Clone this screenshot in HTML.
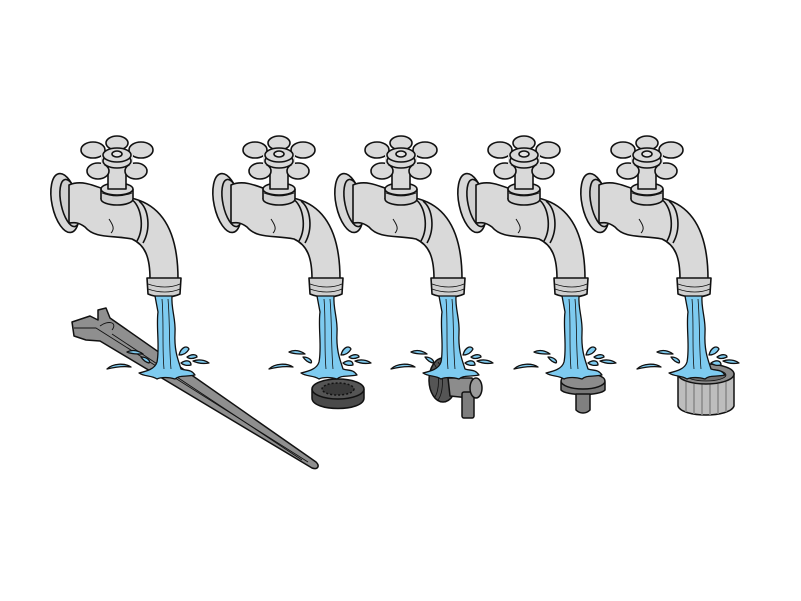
<!DOCTYPE html>
<html><head><style>html,body{margin:0;padding:0;background:#fff}svg{display:block}</style></head>
<body>
<svg width="801" height="601" viewBox="0 0 801 601" xmlns="http://www.w3.org/2000/svg">
<defs>
<g id="fau" stroke="#111" stroke-width="1.6" stroke-linejoin="round">
  <ellipse cx="-52" cy="46" rx="13" ry="30" transform="rotate(-12 -52 46)" fill="#d8d8d8"/>
  <ellipse cx="-47" cy="46" rx="9" ry="24" transform="rotate(-12 -47 46)" fill="#cfcfcf"/>
  <path d="M-48 28 C-30 20 -12 36 18 42 C46 50 61 76 61 122 L33 122 C33 100 28 88 15 82 C-5 78 -22 82 -32 70 C-40 64 -44 66 -48 66 Z" fill="#d9d9d9"/>
  <path d="M14 42 C24 48 28 70 20 84" fill="none"/>
  <path d="M22 44 C32 52 34 72 26 86" fill="none"/>
  <path d="M-8 62 C-4 68 -2 72 -6 76" fill="none" stroke-width="1"/>
  <path d="M30 121 L64 121 L63 137 C55 141 40 141 31 137 Z" fill="#cfcfcf"/>
  <path d="M31 127 C42 131 54 131 63 127 M31 132 C42 136 54 136 63 132" fill="none" stroke-width="0.8"/>
  <ellipse cx="0" cy="42" rx="16" ry="6" fill="#d0d0d0"/>
  <rect x="-16" y="32" width="32" height="10" fill="#d0d0d0" stroke="none"/>
  <path d="M-16 32 L-16 42 M16 32 L16 42" fill="none"/>
  <ellipse cx="0" cy="32" rx="16" ry="6" fill="#d8d8d8"/>
  <path d="M-15 36 C-5 40 5 40 15 36" fill="none" stroke-width="0.8"/>
  <rect x="-9" y="6" width="18" height="26" fill="#d9d9d9"/>
  <g fill="#d9d9d9">
    <ellipse cx="-24" cy="-7" rx="12" ry="8"/>
    <ellipse cx="24" cy="-7" rx="12" ry="8"/>
    <ellipse cx="0" cy="-14" rx="11" ry="7"/>
    <ellipse cx="-19" cy="14" rx="11" ry="8"/>
    <ellipse cx="19" cy="14" rx="11" ry="8"/>
    <path d="M-16 -4 L16 -4 L16 8 L-16 8 Z" stroke="none"/>
    <ellipse cx="0" cy="4" rx="14" ry="7"/>
    <ellipse cx="0" cy="-2" rx="14" ry="7"/>
    <ellipse cx="0" cy="-3" rx="5" ry="3" fill="#e4e4e4"/>
  </g>
</g>
<g id="wat" stroke="#111" stroke-width="1.3" stroke-linejoin="round" fill="#7ecbf0">
  <path d="M38 139 L55 139 C54 152 59 162 58 176 C57 195 62 205 64 212 C70 214 74 212 78 218 C68 220 62 218 58 222 C52 220 44 220 40 222 C34 218 28 220 22 216 C30 214 38 212 40 205 C43 190 39 170 41 155 Z"/>
  <path d="M45 142 C47 165 45 190 47 212 M51 142 C53 165 52 190 54 212" fill="none" stroke-width="0.8"/>
  <path d="M-10 212 C-4 206 8 206 14 210 C6 209 -2 210 -10 212 Z"/>
  <path d="M10 195 C16 192 22 194 26 197 C20 197 14 197 10 195 Z"/>
  <path d="M24 200 C30 200 34 204 32 206 C28 205 26 203 24 200 Z"/>
  <path d="M62 198 C64 190 70 188 72 192 C70 196 66 198 62 198 Z"/>
  <path d="M70 200 C76 196 80 198 80 200 C76 202 72 202 70 200 Z"/>
  <path d="M76 204 C82 202 88 203 92 206 C86 207 80 206 76 204 Z"/>
  <path d="M64 206 C70 202 74 204 74 208 C70 209 66 208 64 206 Z"/>
</g>
</defs>

<g stroke="#111" stroke-width="1.5" stroke-linejoin="round">
  <path d="M72 322 L90 316 L98 320 L98 310 L106 308 L110 318 L316 462 C320 466 318 470 312 468 L100 341 L86 340 L74 336 Z" fill="#8f8f8f"/>
  <path d="M74 328 L96 328 L308 462" fill="none" stroke-width="0.9"/>
  <path d="M100 326 C108 320 118 322 112 330" fill="none" stroke-width="0.9"/>
  <path d="M112 334 L302 460" fill="none" stroke-width="0.9"/>
</g>

<use href="#fau" x="117" y="157"/>
<use href="#fau" x="279" y="157"/>
<use href="#fau" x="401" y="157"/>
<use href="#fau" x="524" y="157"/>
<use href="#fau" x="647" y="157"/>

<g stroke="#111" stroke-width="1.5">
  <path d="M312 390 L312 398 C312 412 364 412 364 398 L364 390 Z" fill="#4a4a4a"/>
  <ellipse cx="338" cy="389" rx="26" ry="10" fill="#555"/>
  <ellipse cx="338" cy="389" rx="16" ry="6" fill="#3a3a3a" stroke-dasharray="2 2"/>
</g>
<g stroke="#111" stroke-width="1.5" stroke-linejoin="round">
  <ellipse cx="443" cy="380" rx="14" ry="22" fill="#555"/>
  <path d="M434 364 C440 370 440 392 434 398 M438 362 C444 370 444 392 438 400" fill="none" stroke-width="0.8"/>
  <path d="M448 378 L472 378 L476 388 L470 398 L450 396 Z" fill="#8c8c8c"/>
  <rect x="462" y="392" width="12" height="26" rx="2" fill="#7d7d7d"/>
  <ellipse cx="476" cy="388" rx="6" ry="10" fill="#9a9a9a"/>
</g>
<g stroke="#111" stroke-width="1.5" stroke-linejoin="round">
  <path d="M561 382 L561 390 C566 396 600 396 605 390 L605 382 Z" fill="#777"/>
  <ellipse cx="583" cy="381" rx="22" ry="8" fill="#8c8c8c"/>
  <path d="M576 394 L576 410 C580 414 586 414 590 410 L590 394 Z" fill="#808080"/>
</g>
<g stroke="#111" stroke-width="1.5">
  <path d="M678 374 L678 406 C682 418 730 418 734 406 L734 374 Z" fill="#bdbdbd"/>
  <path d="M686 382 L686 412 M694 384 L694 414 M702 384 L702 415 M710 384 L710 415 M718 384 L718 414 M726 382 L726 412" stroke="#888" stroke-width="1.5"/>
  <ellipse cx="706" cy="374" rx="28" ry="10" fill="#8a8a8a"/>
  <ellipse cx="706" cy="375" rx="20" ry="6" fill="#6e6e6e" stroke-width="0.8"/>
</g>

<use href="#wat" x="117" y="157"/>
<use href="#wat" x="279" y="157"/>
<use href="#wat" x="401" y="157"/>
<use href="#wat" x="524" y="157"/>
<use href="#wat" x="647" y="157"/>
</svg>
</body></html>
